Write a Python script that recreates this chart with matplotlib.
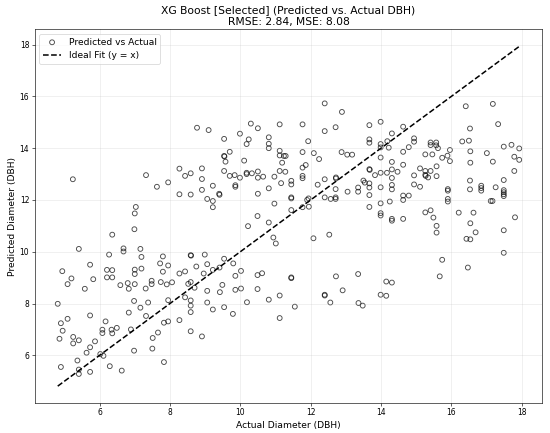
import matplotlib
matplotlib.use("Agg")
import matplotlib.pyplot as plt

# actual / predicted DBH pairs
actual = [
    5.24, 7.32, 7.63, 7.95, 8.27, 8.43, 8.59, 8.91, 8.91, 8.91, 8.27, 8.59, 9.06, 7.03, 7.00,
    6.99, 6.36, 5.41, 6.27, 6.68, 6.68, 7.16, 7.19, 7.80, 7.72, 7.95, 8.59, 8.60, 8.99, 9.06,
    8.75, 5.73, 4.94, 6.21, 6.36, 7.00, 7.19, 7.80, 8.27, 8.43, 8.96,
    7.00, 5.09, 5.20, 5.58, 5.82, 6.21, 6.36, 6.59, 6.80, 6.83, 7.00, 7.31, 7.48, 7.48, 7.74,
    7.91, 8.06, 8.52, 8.59, 8.70, 9.06, 4.81, 6.98, 7.38, 7.95, 8.43, 8.59, 8.59, 9.06, 7.16,
    6.83, 8.59, 5.73, 5.09, 7.32, 6.17, 4.90, 7.83, 7.95, 8.27, 6.08, 6.08, 4.95, 6.34, 6.36,
    6.49, 6.89, 7.66, 8.59, 8.91, 4.86, 5.25, 5.25, 5.41, 5.87, 7.51, 5.73, 5.63, 6.02, 6.11,
    6.98, 7.50, 5.37, 4.90, 5.41, 5.41, 5.73, 6.29, 6.63, 7.83,
    8.77, 9.10, 10.30, 10.50, 11.12, 11.77, 12.40, 12.89, 12.40, 12.71, 9.54, 9.99, 10.24, 10.18,
    10.81, 10.81, 10.81, 11.93, 9.70, 9.54, 9.55, 9.58, 11.12, 11.12, 11.24, 11.29, 11.19, 11.77,
    12.09, 12.24, 12.88, 13.04, 13.18, 10.11, 9.54, 9.70, 9.84, 9.99, 10.18, 10.18, 10.33, 10.50,
    10.50, 10.65, 10.97, 11.12, 11.28, 11.16, 11.45, 11.45, 11.77, 11.86, 11.77, 11.77, 12.40,
    12.72, 12.72, 12.20, 12.71, 13.05, 13.35, 13.35, 13.50, 13.54, 9.22, 9.86, 9.86, 10.81,
    10.50, 9.40, 9.41, 9.22, 9.22, 11.45, 11.45, 11.90, 11.94, 11.77, 11.95, 12.40, 12.57, 12.71,
    12.71, 10.97, 11.45,
    13.67, 13.99, 14.63, 14.31, 13.67, 13.67, 13.99, 13.99, 14.18, 14.22, 13.99, 14.63, 14.79,
    14.94, 14.94, 15.41, 15.41, 15.57, 15.57, 15.62, 15.26, 15.46, 15.74, 15.89, 15.96, 15.96,
    16.31, 16.50, 16.41, 17.18, 17.33, 16.53, 16.54, 16.54, 17.01, 17.18, 17.49, 17.71, 17.93,
    17.79, 17.93, 17.79, 13.67, 13.68, 13.83, 13.99, 14.17, 14.31, 14.31, 14.47, 14.31, 14.63,
    13.67, 13.67, 13.99, 13.67, 14.31, 14.31, 14.94, 14.94, 15.11, 15.11, 15.26, 15.26, 15.27,
    15.34, 15.41, 15.58, 15.58, 15.90, 15.90, 15.90, 15.90, 16.53, 16.53, 16.85, 16.85, 16.85,
    17.26, 17.49, 17.49, 17.49, 17.49, 17.49, 17.12, 17.17, 14.63, 14.63, 14.79, 13.99, 14.25,
    13.67, 15.26, 15.41, 16.21, 16.63, 13.99,
    13.99, 14.31, 14.31, 14.63, 15.49, 15.58, 15.58, 16.54, 16.69, 16.43, 16.54, 17.81, 17.49,
    17.49, 15.74, 16.47, 15.67, 14.15, 14.31, 13.99, 14.15,
    10.49, 10.22, 10.81, 10.94, 11.01, 12.08, 12.53, 9.54, 9.80, 9.22, 9.41, 10.02, 9.86, 10.49,
    10.62, 11.45, 11.45, 12.72, 13.35, 9.49, 9.42, 9.86, 10.02, 10.49, 12.91, 11.12, 12.40, 12.40,
    10.81, 10.19, 12.56, 13.36, 13.48, 11.55, 9.22, 9.54, 9.79, 11.12,
]
predicted = [
    12.80, 12.96, 12.51, 12.68, 13.21, 12.93, 13.03, 13.22, 12.81, 12.39, 12.22, 12.21, 12.04, 11.73, 11.48,
    10.87, 10.66, 10.11, 9.89, 10.13, 10.01, 10.11, 9.80, 9.82, 9.55, 9.47, 9.87, 9.85, 9.89, 9.52,
    9.43, 9.50, 9.25, 9.30, 9.29, 9.31, 9.35, 9.23, 9.16, 9.24, 9.16,
    9.14, 8.75, 8.97, 8.57, 8.94, 9.01, 9.01, 8.71, 8.79, 8.57, 8.75, 8.58, 8.88, 8.75, 8.83,
    8.74, 8.82, 8.76, 8.83, 8.61, 8.49, 7.99, 8.10, 8.04, 8.13, 8.24, 8.12, 7.92, 8.04, 7.84,
    7.65, 7.67, 7.54, 7.41, 7.52, 7.31, 7.24, 7.26, 7.31, 7.36, 6.99, 6.86, 6.95, 6.99, 6.85,
    7.06, 7.00, 6.88, 6.93, 6.73, 6.64, 6.71, 6.46, 6.58, 6.54, 6.67, 6.31, 6.10, 6.05, 5.98,
    6.18, 6.26, 5.80, 5.55, 5.45, 5.28, 5.36, 5.58, 5.41, 5.74,
    14.79, 14.70, 14.95, 14.77, 14.92, 14.92, 15.73, 15.40, 14.66, 14.81, 14.36, 14.56, 14.34, 14.16,
    14.42, 14.17, 14.00, 14.27, 13.86, 13.70, 13.68, 13.48, 13.90, 13.72, 13.70, 13.70, 13.44, 13.85,
    13.81, 13.58, 13.85, 13.75, 13.75, 13.52, 13.12, 12.93, 12.96, 12.86, 13.05, 13.00, 13.03, 13.10,
    12.86, 12.90, 12.90, 13.12, 13.09, 12.65, 12.74, 12.60, 13.25, 13.35, 12.93, 12.84, 12.80,
    12.87, 12.83, 12.59, 12.42, 12.32, 12.48, 12.32, 12.75, 12.67, 12.55, 12.57, 12.51, 12.45,
    12.24, 12.24, 12.20, 11.96, 11.72, 12.10, 12.06, 12.00, 12.06, 11.72, 11.74, 12.10, 12.04, 12.04,
    12.10, 11.86, 11.61,
    14.89, 15.02, 14.83, 14.57, 14.34, 14.21, 14.16, 14.03, 14.27, 14.02, 13.64, 13.86, 14.04,
    14.38, 14.25, 14.22, 14.12, 14.22, 14.11, 14.00, 13.76, 13.76, 13.63, 13.71, 13.93, 13.50,
    14.26, 14.29, 15.62, 15.71, 14.93, 14.76, 13.88, 13.44, 13.81, 13.48, 14.06, 14.13, 13.99,
    13.67, 13.55, 13.12, 13.19, 13.16, 12.96, 13.05, 13.05, 13.18, 13.47, 13.09, 12.85, 13.36,
    12.64, 12.48, 12.49, 12.19, 12.58, 12.41, 12.95, 12.60, 13.22, 12.51, 13.12, 12.97, 12.93,
    12.87, 13.12, 13.30, 12.92, 12.42, 12.36, 12.04, 11.94, 12.75, 12.41, 12.55, 12.46, 12.36,
    12.49, 12.77, 12.38, 12.30, 12.22, 12.15, 11.96, 11.96, 12.17, 12.00, 12.17, 11.87, 11.94,
    11.73, 11.52, 11.60, 11.51, 11.51, 11.49,
    11.40, 11.27, 11.20, 11.27, 11.32, 11.00, 10.74, 11.10, 10.75, 10.50, 10.48, 11.33, 10.83,
    9.96, 9.69, 9.39, 9.05, 8.85, 8.81, 8.34, 8.30,
    11.38, 10.99, 11.13, 10.55, 10.32, 10.52, 10.66, 9.73, 9.55, 9.30, 9.39, 9.26, 9.07, 9.10,
    9.17, 9.01, 8.98, 9.05, 9.14, 8.72, 8.44, 8.53, 8.58, 8.56, 8.51, 8.31, 8.34, 8.31,
    8.15, 8.05, 8.04, 8.02, 7.92, 7.88, 7.77, 7.86, 7.60, 7.44,
]

model_name = "XG Boost [Selected]"
rmse = 2.84
mse = 8.08

fig, ax = plt.subplots(figsize=(10, 433 / 55))
fig.subplots_adjust(left=0.063, right=0.986, top=0.932, bottom=0.069)

ax.scatter(actual, predicted, facecolors='none', edgecolors='black', alpha=0.7,
           linewidths=1.2, s=40, label='Predicted vs Actual')
lo, hi = min(actual), max(actual)
ax.plot([lo, hi], [lo, hi], 'k--', lw=2, label='Ideal Fit (y = x)')

ax.set_title(f"{model_name} (Predicted vs. Actual DBH)\nRMSE: {rmse:.2f}, MSE: {mse:.2f}", fontsize=14)
ax.set_xlabel("Actual Diameter (DBH)", fontsize=12)
ax.set_ylabel("Predicted Diameter (DBH)", fontsize=12)
ax.grid(True, alpha=0.3)
ax.legend(loc='upper left', fontsize=12)

fig.savefig("out.png", dpi=55)
